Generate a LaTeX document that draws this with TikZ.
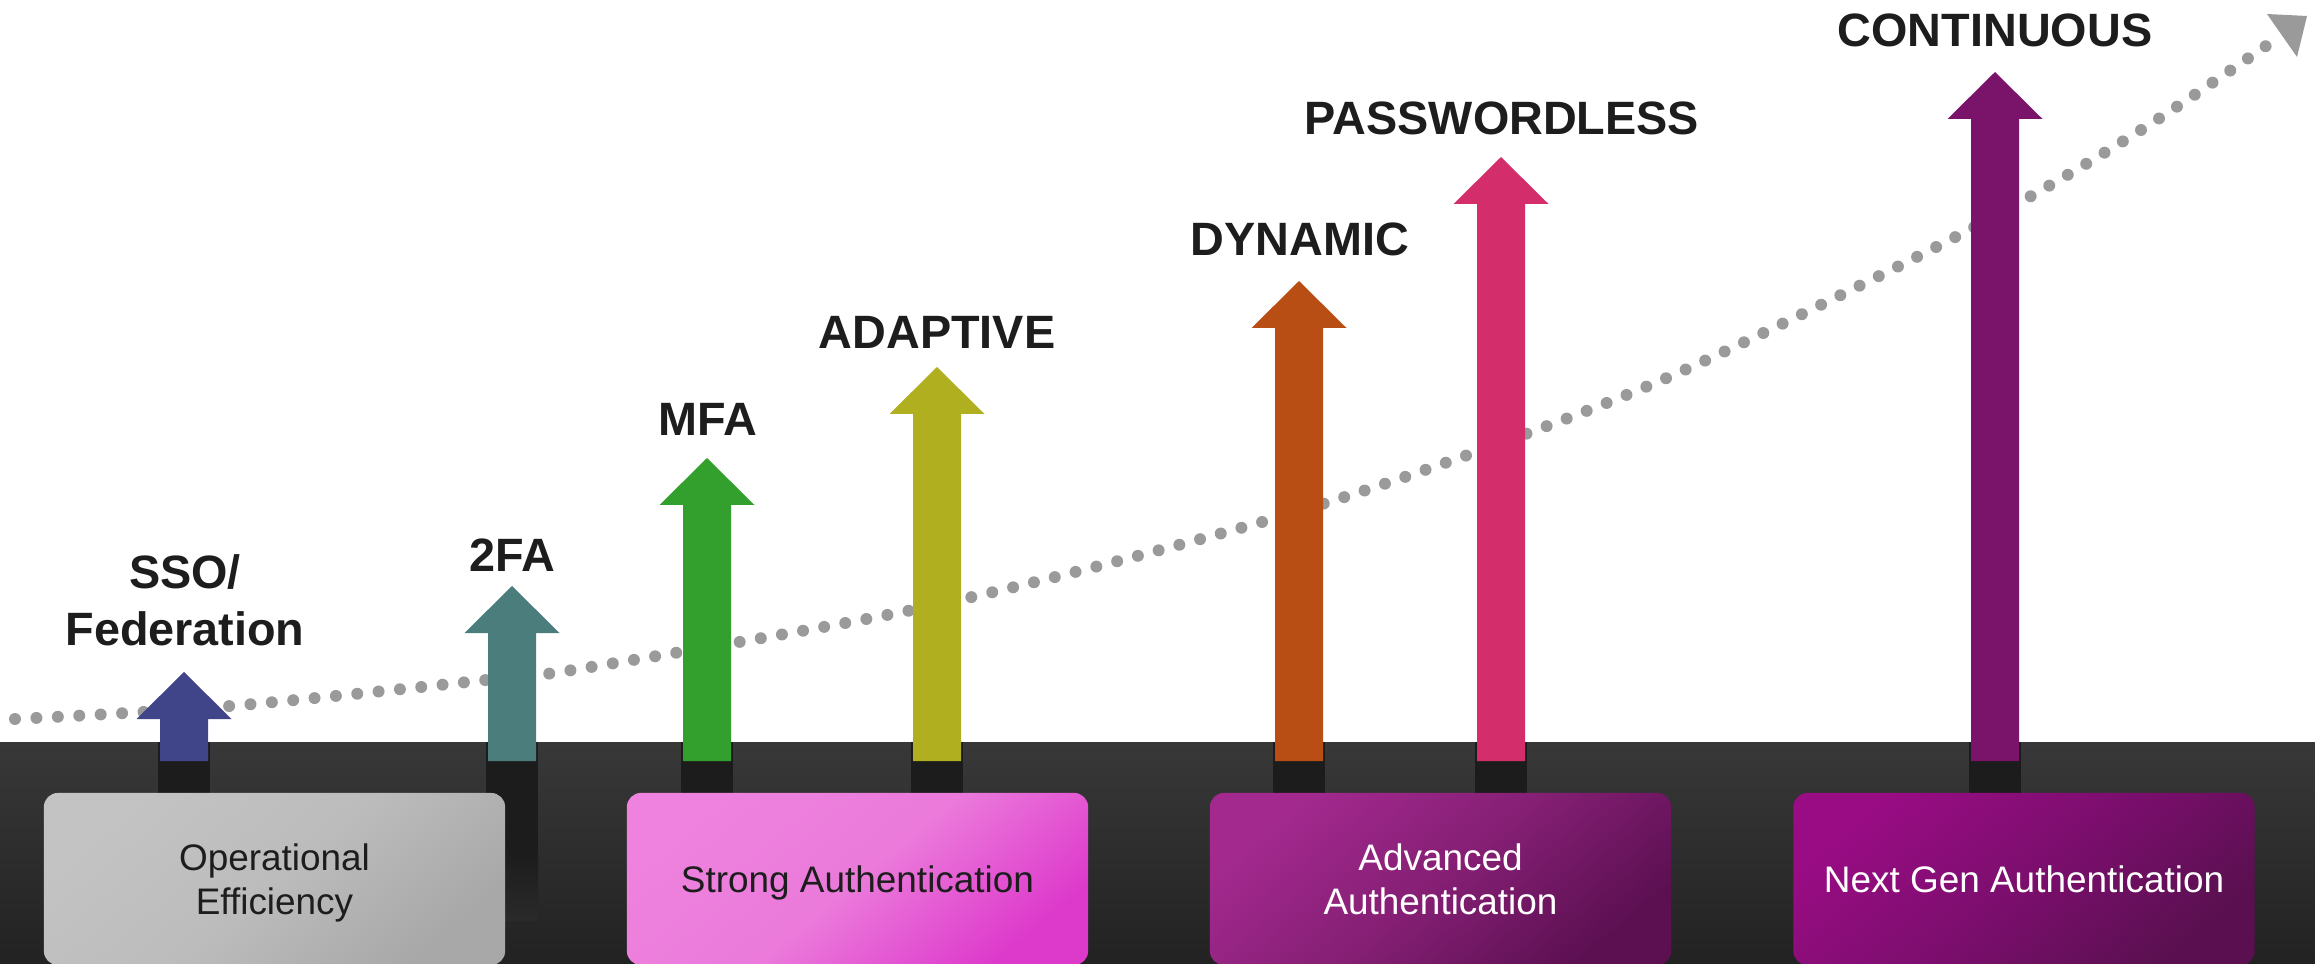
\documentclass[tikz,border=0pt]{standalone}
\usepackage{fontspec}
\setmainfont{Liberation Sans}
\usetikzlibrary{calc}
\definecolor{bandtop}{HTML}{383838}
\definecolor{bandbot}{HTML}{222222}
\definecolor{bandmid}{HTML}{2A2A2A}
\definecolor{stubc}{HTML}{1C1C1C}
\definecolor{dotc}{HTML}{9A9A9A}
\definecolor{lblc}{HTML}{1D1D1D}
\definecolor{cSSO}{HTML}{404488}
\definecolor{cTWO}{HTML}{4C7D7D}
\definecolor{cMFA}{HTML}{33A02E}
\definecolor{cADA}{HTML}{AFAF1F}
\definecolor{cDYN}{HTML}{B84E14}
\definecolor{cPWL}{HTML}{D32E6B}
\definecolor{cCON}{HTML}{7A146B}
\definecolor{gA}{HTML}{C3C3C3}
\definecolor{gB}{HTML}{BCBCBC}
\definecolor{gC}{HTML}{A8A8A8}
\definecolor{pA}{HTML}{EE82DE}
\definecolor{pB}{HTML}{EB7ADB}
\definecolor{pC}{HTML}{DD3ACB}
\definecolor{aA}{HTML}{A3298F}
\definecolor{aB}{HTML}{851F74}
\definecolor{aC}{HTML}{5C1052}
\definecolor{nA}{HTML}{990C84}
\definecolor{nB}{HTML}{7C0E6E}
\definecolor{nC}{HTML}{5A1050}
\tikzset{
  lbl/.style={font=\fontsize{13.3pt}{16.4pt}\selectfont\bfseries, text=lblc, align=center, text depth=0pt, inner sep=0pt},
  phase/.style={minimum width=4.61cm, minimum height=1.72cm, rounded corners=0.14cm, draw=none,
     font=\fontsize{10.5pt}{12.6pt}\selectfont, align=center, text depth=0pt, inner sep=0pt},
  curve/.style={draw=dotc, line width=3.4pt, line cap=round, dash pattern=on 0pt off 6.1pt},
}
\newcommand\authStub[1]{\fill[stubc] (#1-26,742) rectangle (#1+26,793);}
\newcommand\authArrow[3]{%
  \fill[#3] (#1-24,761) -- (#1-24,#2+47) -- (#1-47.5,#2+47) -- (#1,#2) -- (#1+47.5,#2+47) -- (#1+24,#2+47) -- (#1+24,761) -- cycle;}
\begin{document}
\begin{tikzpicture}[x=0.01cm, y=-0.01cm]
\useasboundingbox (0,0) rectangle (2315,964);
\fill[white] (0,0) rectangle (2315,964);
% dotted growth curve
\coordinate (cstart) at (15,719);
\coordinate (cend) at (2276,39);
\coordinate (ctip) at (2307,16);
\draw[curve] plot[smooth, tension=0.55] coordinates {(15,719) (230,706) (486,680) (591,667) (936,605) (1255,524) (1462,457) (1662,380) (1873,279) (2024,200) (2152,123) (2276,39)};
\fill[dotc] (ctip) -- (2267,14) -- (2297,57) -- cycle;
% dark band
\fill[top color=bandtop, bottom color=bandbot] (0,742) rectangle (2315,964);
% stubs
\authStub{184}
\fill[stubc] (512-26,742) rectangle (512+26,853);
\fill[top color=stubc, bottom color=bandmid] (512-26,853) rectangle (512+26,920);
\authStub{707}
\authStub{937}
\authStub{1299}
\authStub{1501}
\authStub{1995}
% arrows
\authArrow{184}{672}{cSSO}
\authArrow{512}{586}{cTWO}
\authArrow{707}{458}{cMFA}
\authArrow{937}{367}{cADA}
\authArrow{1299}{281}{cDYN}
\authArrow{1501}{157}{cPWL}
\authArrow{1995}{72}{cCON}
% labels
\node[lbl] (lsso) at (185,600) {SSO/\\Federation};
\node[lbl] (ltwo) at (512,555) {2FA};
\node[lbl] (lmfa) at (708,419) {MFA};
\node[lbl] (lada) at (937,332) {ADAPTIVE};
\node[lbl] (ldyn) at (1300,239) {DYNAMIC};
\node[lbl] (lpwl) at (1502,118) {PASSWORDLESS};
\node[lbl] (lcon) at (1995,30) {CONTINUOUS};
% phase boxes
\node[phase, top color=gA, bottom color=gC, middle color=gB, shading angle=40, text=lblc] (p1) at (274.5,879) {Operational\\Efficiency};
\node[phase, top color=pA, bottom color=pC, middle color=pB, shading angle=40, text=lblc] (p2) at (857.5,879) {Strong Authentication};
\node[phase, top color=aA, bottom color=aC, middle color=aB, shading angle=40, text=white] (p3) at (1440.5,879) {Advanced\\Authentication};
\node[phase, top color=nA, bottom color=nC, middle color=nB, shading angle=40, text=white] (p4) at (2024,879) {Next Gen Authentication};
\end{tikzpicture}
\end{document}
